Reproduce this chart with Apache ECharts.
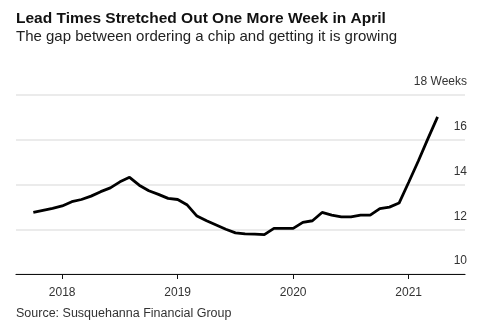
<!DOCTYPE html>
<html>
<head>
<meta charset="utf-8">
<style>
  html, body { margin: 0; padding: 0; background: #fff; }
  #chart { width: 483px; height: 335px; }
</style>
<script src="https://cdn.jsdelivr.net/npm/echarts@6/dist/echarts.min.js"></script>
</head>
<body>
<div id="chart"></div>
<script>
// Semiconductor lead times, monthly (weeks)
const months = [
  '2017-10','2017-11','2017-12',
  '2018-01','2018-02','2018-03','2018-04','2018-05','2018-06','2018-07','2018-08','2018-09','2018-10','2018-11','2018-12',
  '2019-01','2019-02','2019-03','2019-04','2019-05','2019-06','2019-07','2019-08','2019-09','2019-10','2019-11','2019-12',
  '2020-01','2020-02','2020-03','2020-04','2020-05','2020-06','2020-07','2020-08','2020-09','2020-10','2020-11','2020-12',
  '2021-01','2021-02','2021-03','2021-04'
];
const leadWeeks = [
  12.75, 12.84, 12.93,
  13.04, 13.23, 13.33, 13.48, 13.68, 13.85, 14.12, 14.32, 13.97, 13.72, 13.56, 13.38,
  13.33, 13.08, 12.59, 12.38, 12.19, 12.00, 11.84, 11.79, 11.78, 11.76, 12.04, 12.04,
  12.04, 12.31, 12.38, 12.75, 12.63, 12.55, 12.55, 12.63, 12.63, 12.92, 12.99, 13.17,
  14.10, 15.05, 16.05, 17.02
];
const yearLabels = ['2018', '2019', '2020', '2021'];
const yTicks = [10, 12, 14, 16, 18];

// x position = months elapsed since January 2018
const BASE_YEAR = 2018;
const monthIndex = s => {
  const [y, m] = s.split('-').map(Number);
  return (y - BASE_YEAR) * 12 + (m - 1);
};
const yearTickPos = yearLabels.map(y => monthIndex(y + '-01'));

const font = 'Liberation Sans, Arial, sans-serif';
const chart = echarts.init(document.getElementById('chart'), null, { renderer: 'canvas' });

chart.setOption({
  animation: false,
  backgroundColor: '#fff',
  title: [
    { text: 'Lead Times Stretched Out One More Week in April', left: 16, top: 11, padding: 0,
      textStyle: { fontFamily: font, fontSize: 15.5, fontWeight: 'bold', color: '#111' } },
    { text: 'The gap between ordering a chip and getting it is growing', left: 16, top: 29, padding: 0,
      textStyle: { fontFamily: font, fontSize: 15, fontWeight: 'normal', color: '#222' } },
    { text: 'Source: Susquehanna Financial Group', left: 16, top: 307, padding: 0,
      textStyle: { fontFamily: font, fontSize: 12.5, fontWeight: 'normal', color: '#333' } }
  ],
  grid: { left: 16, right: 18, top: 95, bottom: 61, containLabel: false },
  xAxis: {
    type: 'value',
    min: -4.8,
    max: 41.85,
    axisLine: { show: true, onZero: false, lineStyle: { color: '#111', width: 1.2 } },
    axisTick: { show: true, customValues: yearTickPos, length: 5, lineStyle: { color: '#111' } },
    axisLabel: {
      customValues: yearTickPos,
      margin: 13,
      fontFamily: font, fontSize: 12, color: '#333',
      formatter: v => String(BASE_YEAR + Math.round(v / 12))
    },
    splitLine: { show: false }
  },
  yAxis: {
    type: 'value',
    position: 'right',
    min: 10, max: 18, interval: 2,
    axisLine: { show: false },
    axisTick: { show: false },
    axisLabel: {
      inside: true,
      margin: -2,
      align: 'right',
      verticalAlign: 'bottom',
      padding: [0, 0, 7, 0],
      fontFamily: font, fontSize: 12, color: '#333',
      formatter: v => (v === yTicks[yTicks.length - 1] ? v + ' Weeks' : String(v))
    },
    splitLine: { show: true, lineStyle: { color: '#e4e4e4', width: 1.5 } }
  },
  series: [{
    type: 'line',
    data: months.map((m, i) => [monthIndex(m), leadWeeks[i]]),
    showSymbol: false,
    lineStyle: { color: '#000', width: 2.8 },
    z: 3
  }]
});
</script>
</body>
</html>
